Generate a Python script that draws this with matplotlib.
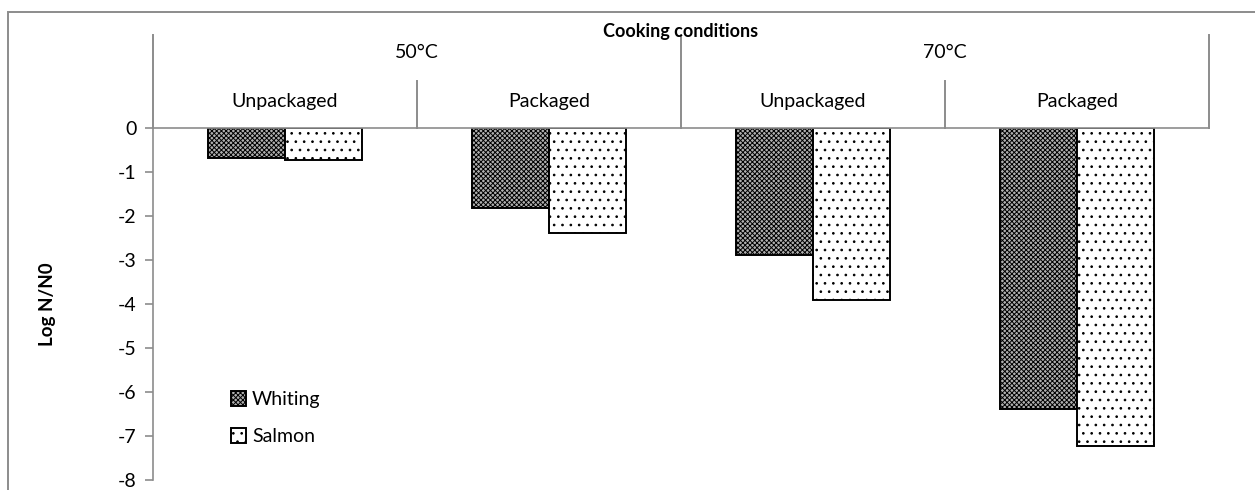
import matplotlib.pyplot as plt
import numpy as np
from matplotlib.patches import Rectangle
from matplotlib.lines import Line2D

plt.rcParams["font.family"] = ["Lato", "DejaVu Sans"]
plt.rcParams["hatch.linewidth"] = 0.7

# data
temperatures = ["50°C", "70°C"]
packaging = ["Unpackaged", "Packaged", "Unpackaged", "Packaged"]
whiting = [-0.69, -1.81, -2.89, -6.38]
salmon = [-0.73, -2.39, -3.90, -7.23]
yticks = [0, -1, -2, -3, -4, -5, -6, -7, -8]

W, H = 1255, 490
fig = plt.figure(figsize=(W / 100, H / 100), dpi=100)

# axes box in pixels: x 153..1209, y 128..480
x0, x1, y0, y1 = 153, 1209, 128, 480
ax = fig.add_axes([x0 / W, 1 - y1 / H, (x1 - x0) / W, (y1 - y0) / H])

grey = "#8c8c8c"
n = len(packaging)
x = np.arange(n)
bw = 0.29
ax.bar(x - bw / 2, whiting, bw, color="#b0b0b0", edgecolor="black",
       hatch="xxxxxxx", linewidth=1.4, label="Whiting")
ax.bar(x + bw / 2, salmon, bw, color="white", edgecolor="black",
       hatch="..", linewidth=1.4, label="Salmon")

ax.set_xlim(-0.5, n - 0.5)
ax.set_ylim(-8, 0)
ax.set_yticks(yticks)
ax.set_yticklabels([str(t) for t in yticks])
ax.set_xticks([])
for s in ["right", "bottom"]:
    ax.spines[s].set_visible(False)
for s in ["left", "top"]:
    ax.spines[s].set_color(grey)
    ax.spines[s].set_linewidth(1.2)
ax.tick_params(axis="y", colors=grey, labelcolor="black", labelsize=14,
               length=6, width=1.2, direction="out", pad=6)
ax.set_ylabel("Log N/N0", fontsize=13.5, fontweight="bold", labelpad=44)

# category table above the zero line (pixel positions)
def fy(py):
    return 1 - py / H

def fx(px):
    return px / W

cw = (x1 - x0) / n
for i in range(n + 1):
    px = x0 + i * cw
    top = 35 if i % 2 == 0 else 81
    fig.add_artist(Line2D([fx(px), fx(px)], [fy(top), fy(y0)], color=grey, lw=1.4))

for i, lab in enumerate(packaging):
    fig.text(fx(x0 + (i + 0.5) * cw), fy(101), lab, ha="center", va="center", fontsize=14)
for j, t in enumerate(temperatures):
    fig.text(fx(x0 + (2 * j + 1) * cw), fy(52), t, ha="center", va="center", fontsize=14)
fig.text(fx((x0 + x1) / 2), fy(31), "Cooking conditions", ha="center", va="center",
         fontsize=13, fontweight="bold")

# outer frame
fig.add_artist(Rectangle((fx(8), -0.1), 1.2, fy(12) + 0.1, fill=False,
                         edgecolor=grey, lw=1.4, transform=fig.transFigure))

leg = ax.legend(loc="lower left", bbox_to_anchor=(60 / (x1 - x0), 0.05), frameon=False,
                fontsize=14, handlelength=0.8, handleheight=0.8, handletextpad=0.3,
                labelspacing=1.0)

fig.savefig("out.png", dpi=100)
